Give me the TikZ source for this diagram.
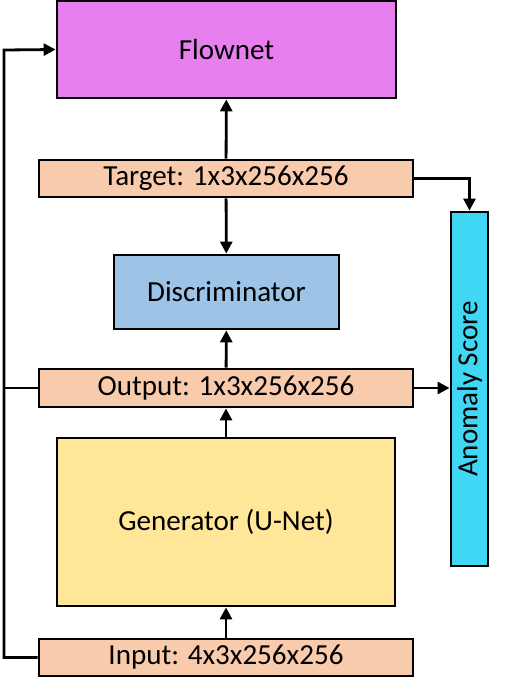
\documentclass[tikz,border=0pt]{standalone}
\usepackage{fontspec}
\setmainfont{Carlito}
\usetikzlibrary{arrows.meta}
\definecolor{flowpink}{RGB}{231,128,238}
\definecolor{tensorpeach}{RGB}{248,203,173}
\definecolor{discblue}{RGB}{157,195,230}
\definecolor{genyellow}{RGB}{255,230,153}
\definecolor{scorecyan}{RGB}{64,215,245}
\tikzset{
  block/.style={draw,line width=2.1pt,inner sep=0pt,font=\fontsize{21.8}{26}\selectfont},
  tensor/.style={block,fill=tensorpeach,minimum width=374*0.75pt,minimum height=37*0.75pt},
  flow/.style={line width=2.1pt,-{Triangle[length=9pt,width=9pt]}},
  tapline/.style={line width=2.1pt}
}
\begin{document}
\begin{tikzpicture}[x=0.75pt,y=-0.75pt]
        \def\u{0.75pt}
        \useasboundingbox (0,0) rectangle (505,693);
        %% blocks
        \node[block,fill=flowpink,minimum width=339*\u,minimum height=97*\u] (flownet) at (226.5,49.5) {Flownet};
        \node[tensor] (target) at (226,178.5) {Target: 1x3x256x256};
        \node[block,fill=discblue,minimum width=225*\u,minimum height=74*\u] (disc) at (226.5,292) {Discriminator};
        \node[tensor,minimum height=38*\u] (output) at (226,388) {Output: 1x3x256x256};
        \node[block,fill=genyellow,minimum width=338*\u,minimum height=168*\u] (gen) at (226,522) {Generator (U-Net)};
        \node[tensor] (input) at (226,657.5) {Input: 4x3x256x256};
        \node[block,fill=scorecyan,minimum width=354*\u,minimum height=37*\u,rotate=90] (score) at (469.5,389) {Anomaly Score};
        %% connectors
        \coordinate (left) at (4,50);
        \draw[flow] (input) -- (gen);
        \draw[flow] (gen) -- (output);
        \draw[flow] (output) -- (disc);
        \draw[flow] (target) -- (disc);
        \draw[flow] (target) -- (flownet);
        \draw[flow] (input.west) -| (left) -- (flownet.west);
        \draw[tapline] (output.west) -- (output.west -| left);
        \draw[flow] (target.east) -| (score.east);
        \draw[flow] (output.east) -- (output.east -| score.north);
    \end{tikzpicture}
\end{document}
